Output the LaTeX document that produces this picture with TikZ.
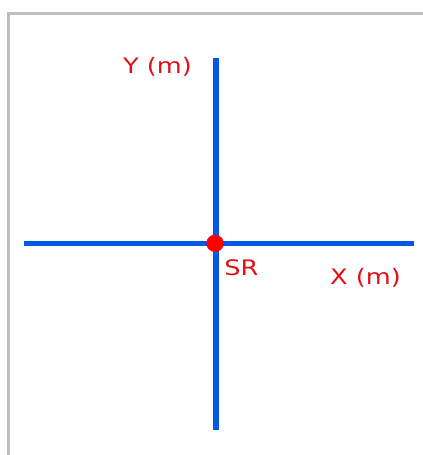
\documentclass[tikz,border=0pt]{standalone}
\usepackage{fontspec}
\setmainfont{DejaVu Sans}
\definecolor{axisblue}{RGB}{0,88,230}
\definecolor{labelred}{RGB}{224,16,24}
\definecolor{framegray}{RGB}{190,190,190}
\begin{document}
\begin{tikzpicture}[x=0.75pt,y=-0.75pt,
  axis/.style={draw=axisblue,line width=4.2pt},
  lbl/.style={text=labelred,font=\fontsize{16pt}{18pt}\selectfont,inner sep=0pt,anchor=base,xscale=1.2,transform shape},
  frame/.style={draw=framegray,line width=2pt}]
\useasboundingbox (0,0) rectangle (423,455);
\draw[frame] (8.5,455) -- (8.5,13.8) -- (423,13.8);
\coordinate (ytop) at (216,58);
\coordinate (ybot) at (216,430);
\coordinate (xleft) at (23.7,243.5);
\coordinate (xright) at (413.7,243.5);
\draw[axis] (ytop) -- (ybot);
\draw[axis] (xleft) -- (xright);
\node[circle,fill=red,inner sep=0pt,minimum width=13pt,minimum height=12.2pt] (sr) at (215,243.3) {};
\node[lbl] (ylabel) at (157.5,73) {Y (m)};
\node[lbl] (xlabel) at (365.5,284) {X (m)};
\node[lbl] (srlabel) at (241.5,275.5) {SR};
\end{tikzpicture}
\end{document}
